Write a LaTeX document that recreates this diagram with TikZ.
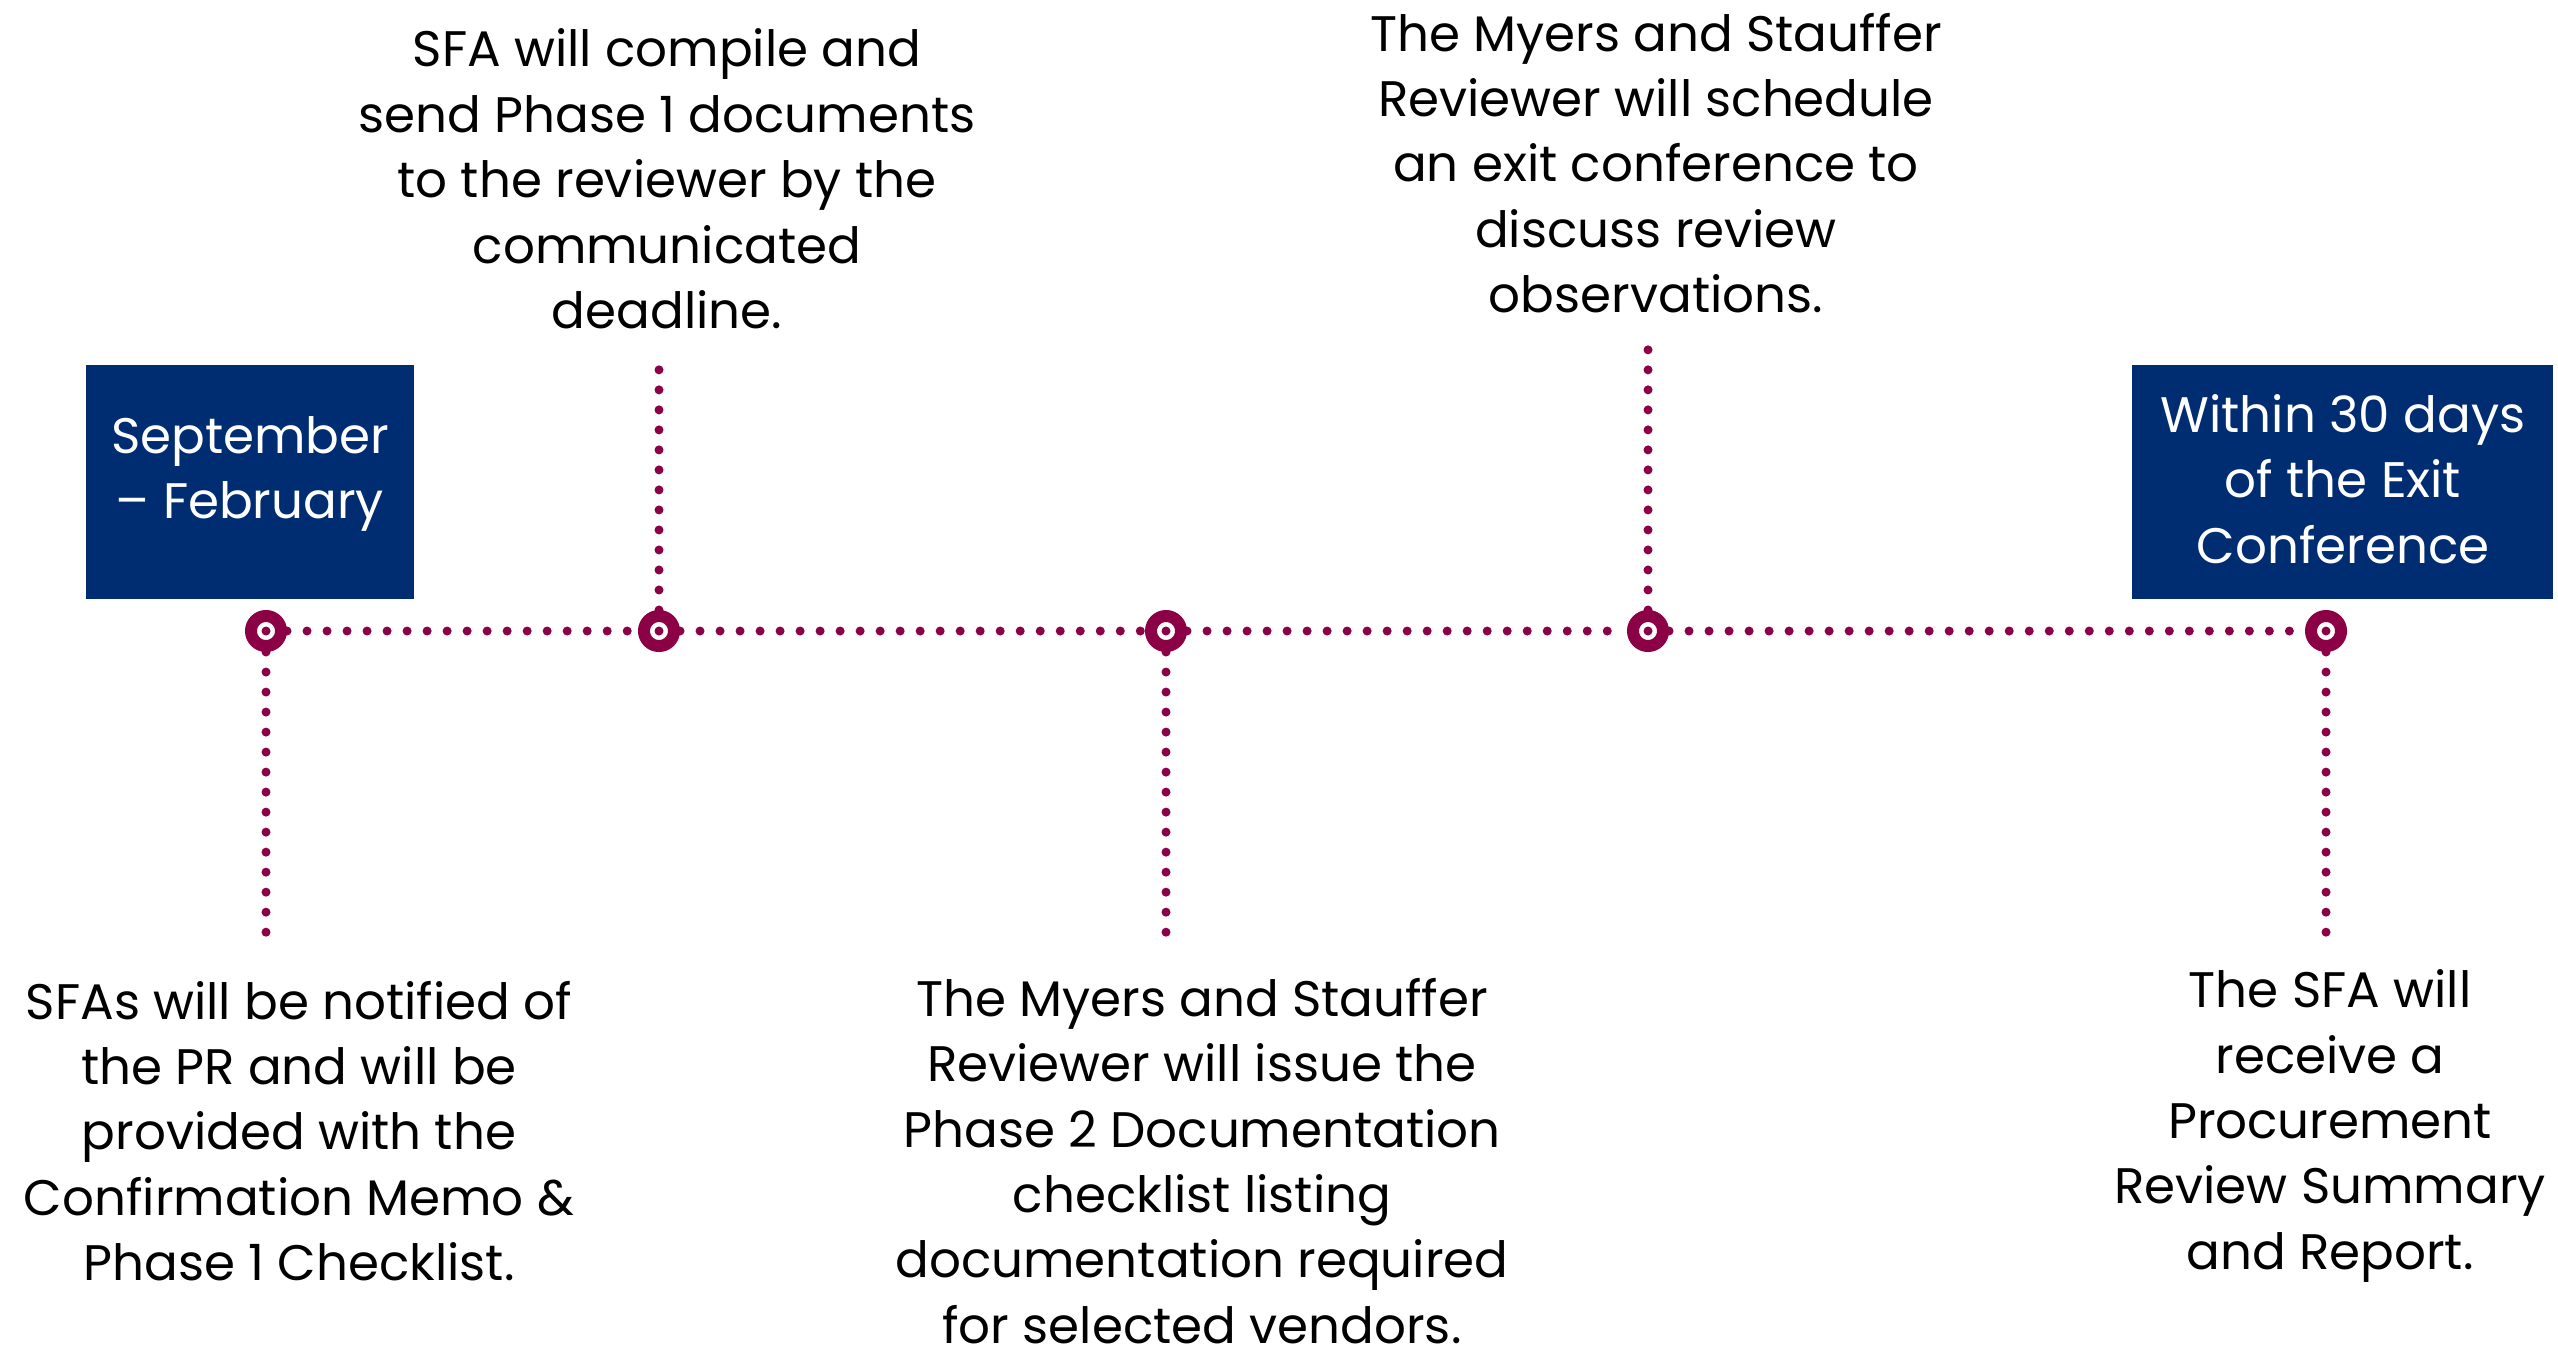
\documentclass[tikz,border=0pt]{standalone}
\usepackage{fontspec}
\setmainfont{Poppins}
\usetikzlibrary{backgrounds}
\definecolor{plum}{RGB}{140,0,70}
\definecolor{navy}{RGB}{0,45,114}
\tikzset{
  dotline/.style={plum, line width=0.09cm, line cap=round, dash pattern=on 0pt off 0.2cm},
  milestone/.style={circle, draw=plum, line width=0.12cm, fill=white, minimum size=0.30cm, inner sep=0pt,
    path picture={\fill[plum] (path picture bounding box.center) circle (0.045cm);}},
  note/.style={align=center, inner sep=0pt, font=\fontsize{14.2}{18.6}\selectfont},
  datebox/.style={fill=navy, text=white, align=center, inner sep=0pt, font=\fontsize{14.2}{18.6}\selectfont}
}
\begin{document}
\begin{tikzpicture}[x=0.01cm,y=-0.01cm]
\useasboundingbox (0,0) rectangle (2558,1351);
%% milestones on the timeline
\node[milestone] (m1) at (266,631) {};
\node[milestone] (m2) at (659,631) {};
\node[milestone] (m3) at (1166,631) {};
\node[milestone] (m4) at (1648,631) {};
\node[milestone] (m5) at (2326,631) {};
%% dates
\fill[navy] (86,365) rectangle (414,599);
\fill[navy] (2132,365) rectangle (2553,599);
\node[datebox, fill=none] (d1) at (250,474) {September\\– February};
\node[datebox, fill=none] (d2) at (2343,479) {Within 30 days\\of the Exit\\Conference};
%% steps
\node[note] (s1) at (299,1131) {SFAs will be notified of\\the PR and will be\\provided with the\\Confirmation Memo \&\\Phase 1 Checklist.};
\node[note] (s2) at (667,179) {SFA will compile and\\send Phase 1 documents\\to the reviewer by the\\communicated\\deadline.};
\node[note] (s3) at (1202,1161) {The Myers and Stauffer\\Reviewer will issue the\\Phase 2 Documentation\\checklist listing\\documentation required\\for selected vendors.};
\node[note] (s4) at (1656,163) {The Myers and Stauffer\\Reviewer will schedule\\an exit conference to\\discuss review\\observations.};
\node[note] (s5) at (2330,1126) {The SFA will\\receive a\\Procurement\\Review Summary\\and Report.};
%% dotted links
\coordinate (e1) at (266,951);
\coordinate (e2) at (659,359);
\coordinate (e3) at (1166,951);
\coordinate (e4) at (1648,343);
\coordinate (e5) at (2326,951);
\begin{scope}[on background layer]
  \draw[dotline] (m1) -- (m2) -- (m3) -- (m4) -- (m5);
  \foreach \i in {1,...,5}
    \draw[dotline] (m\i) -- (e\i);
\end{scope}
\end{tikzpicture}
\end{document}
